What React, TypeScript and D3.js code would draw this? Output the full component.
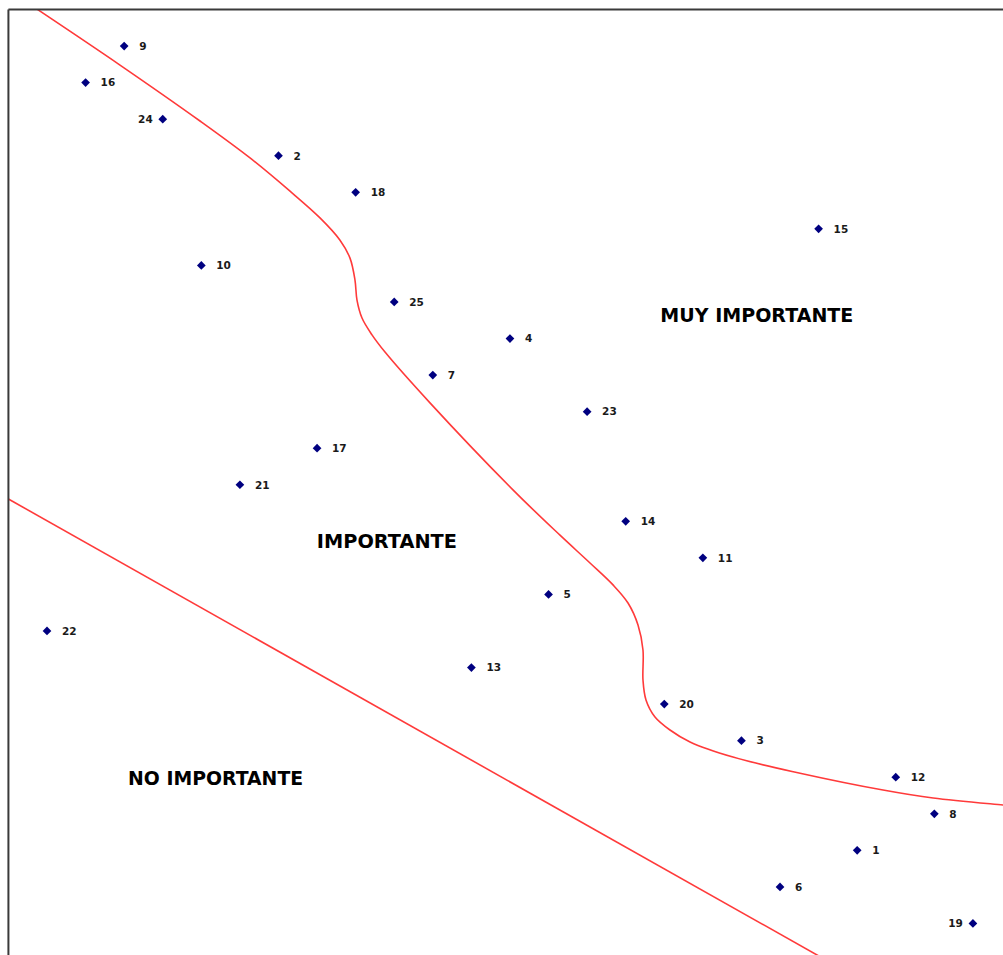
import React from "react";
import * as d3 from "d3";

// Point ids, x values and y values
const pointIds = ["1","2","3","4","5","6","7","8","9","10","11","12","13","14","15","16","17","18","19","20","21","22","23","24","25"];
const pointX = [22, 7, 19, 13, 14, 20, 11, 24, 3, 5, 18, 23, 12, 16, 21, 2, 8, 9, 25, 17, 6, 1, 15, 4, 10];
const pointY = [3, 22, 6, 17, 10, 2, 16, 4, 25, 19, 11, 5, 8, 12, 20, 24, 14, 21, 1, 7, 13, 9, 15, 23, 18];
const labelSide = ["r","r","r","r","r","r","r","r","r","r","r","r","r","r","r","r","r","r","l","r","r","r","r","l","r"];

// Upper boundary curve (MUY IMPORTANTE / IMPORTANTE)
const curveX = [0.741, 2.892, 4.966, 6.262, 7.299, 8.076, 8.595, 8.854, 8.983, 9.035, 9.165, 9.424, 9.761, 10.927, 13.078, 14.297, 15.075, 15.671, 16.06, 16.319, 16.448, 16.448, 16.526, 16.759, 17.148, 17.667, 18.78, 20.52, 22.67, 23.97, 25.78, 26.2];
const curveY = [26.01, 24.48, 22.95, 21.94, 21.03, 20.3, 19.69, 19.2, 18.6, 18.05, 17.56, 17.1, 16.63, 15.24, 12.86, 11.62, 10.86, 10.26, 9.765, 9.163, 8.479, 7.659, 7.112, 6.647, 6.291, 5.963, 5.55, 5.11, 4.65, 4.43, 4.24, 4.2];

// Lower boundary line (IMPORTANTE / NO IMPORTANTE)
const lineX = [0, 21.19];
const lineY = [12.61, 0];

// Region labels
const regionNames = ["MUY IMPORTANTE", "IMPORTANTE", "NO IMPORTANTE"];
const regionX = [19.4, 9.81, 5.37];
const regionY = [17.65, 11.45, 4.98];

const xDomain = [0, 26];
const yDomain = [0, 26];

export default function App() {
  const W = 1003;
  const H = 955;
  const x = d3.scaleLinear().domain(xDomain).range([8.42, 1011.5]);
  const y = d3.scaleLinear().domain(yDomain).range([960, 9.5]);

  const curvePts: [number, number][] = curveX.map((v, i) => [x(v), y(curveY[i])]);
  const curvePath = d3.line().curve(d3.curveCatmullRom.alpha(0.5))(curvePts) || "";
  const linePts: [number, number][] = lineX.map((v, i) => [x(v), y(lineY[i])]);
  const straightPath = d3.line()(linePts) || "";

  const diamond = d3.symbol(d3.symbolSquare, 38)() || "";

  const x0 = x(xDomain[0]);
  const yTop = y(yDomain[1]);
  const regionWidths = [193, 140, 175];

  return (
    <svg
      width={W}
      height={H}
      style={{ position: "absolute", left: 0, top: 0, background: "#fff" }}
    >
      <defs>
        <clipPath id="plot">
          <rect x={x0} y={yTop} width={x(xDomain[1]) - x0} height={y(yDomain[0]) - yTop} />
        </clipPath>
      </defs>
      <rect x={0} y={0} width={W} height={H} fill="#fff" />
      <g clipPath="url(#plot)">
        <path d={curvePath} fill="none" stroke="#ff3a3a" strokeWidth={1.6} />
        <path d={straightPath} fill="none" stroke="#ff3a3a" strokeWidth={1.6} />
      </g>
      {/* frame */}
      <line x1={x0} y1={yTop} x2={W + 5} y2={yTop} stroke="#3a3a3a" strokeWidth={2} />
      <line x1={x0} y1={yTop} x2={x0} y2={H + 5} stroke="#3a3a3a" strokeWidth={2} />

      {pointIds.map((id, i) => {
        const cx = x(pointX[i]);
        const cy = y(pointY[i]);
        const left = labelSide[i] === "l";
        return (
          <g key={id}>
            <path d={diamond} transform={`translate(${cx},${cy}) rotate(45)`} fill="#000080" />
            <text
              x={left ? cx - 10 : cx + 15}
              y={cy}
              dy="0.36em"
              textAnchor={left ? "end" : "start"}
              fontFamily="'DejaVu Sans', Verdana, sans-serif"
              fontSize={10.5}
              fontWeight="bold"
              fill="#1a1a1a"
            >
              {id}
            </text>
          </g>
        );
      })}

      {regionNames.map((name, i) => (
        <text
          key={name}
          x={x(regionX[i])}
          y={y(regionY[i])}
          dy="0.36em"
          textAnchor="middle"
          fontFamily="'DejaVu Sans', Verdana, sans-serif"
          fontSize={19}
          fontWeight="bold"
          textLength={regionWidths[i]}
          lengthAdjust="spacingAndGlyphs"
          fill="#000"
        >
          {name}
        </text>
      ))}
    </svg>
  );
}
